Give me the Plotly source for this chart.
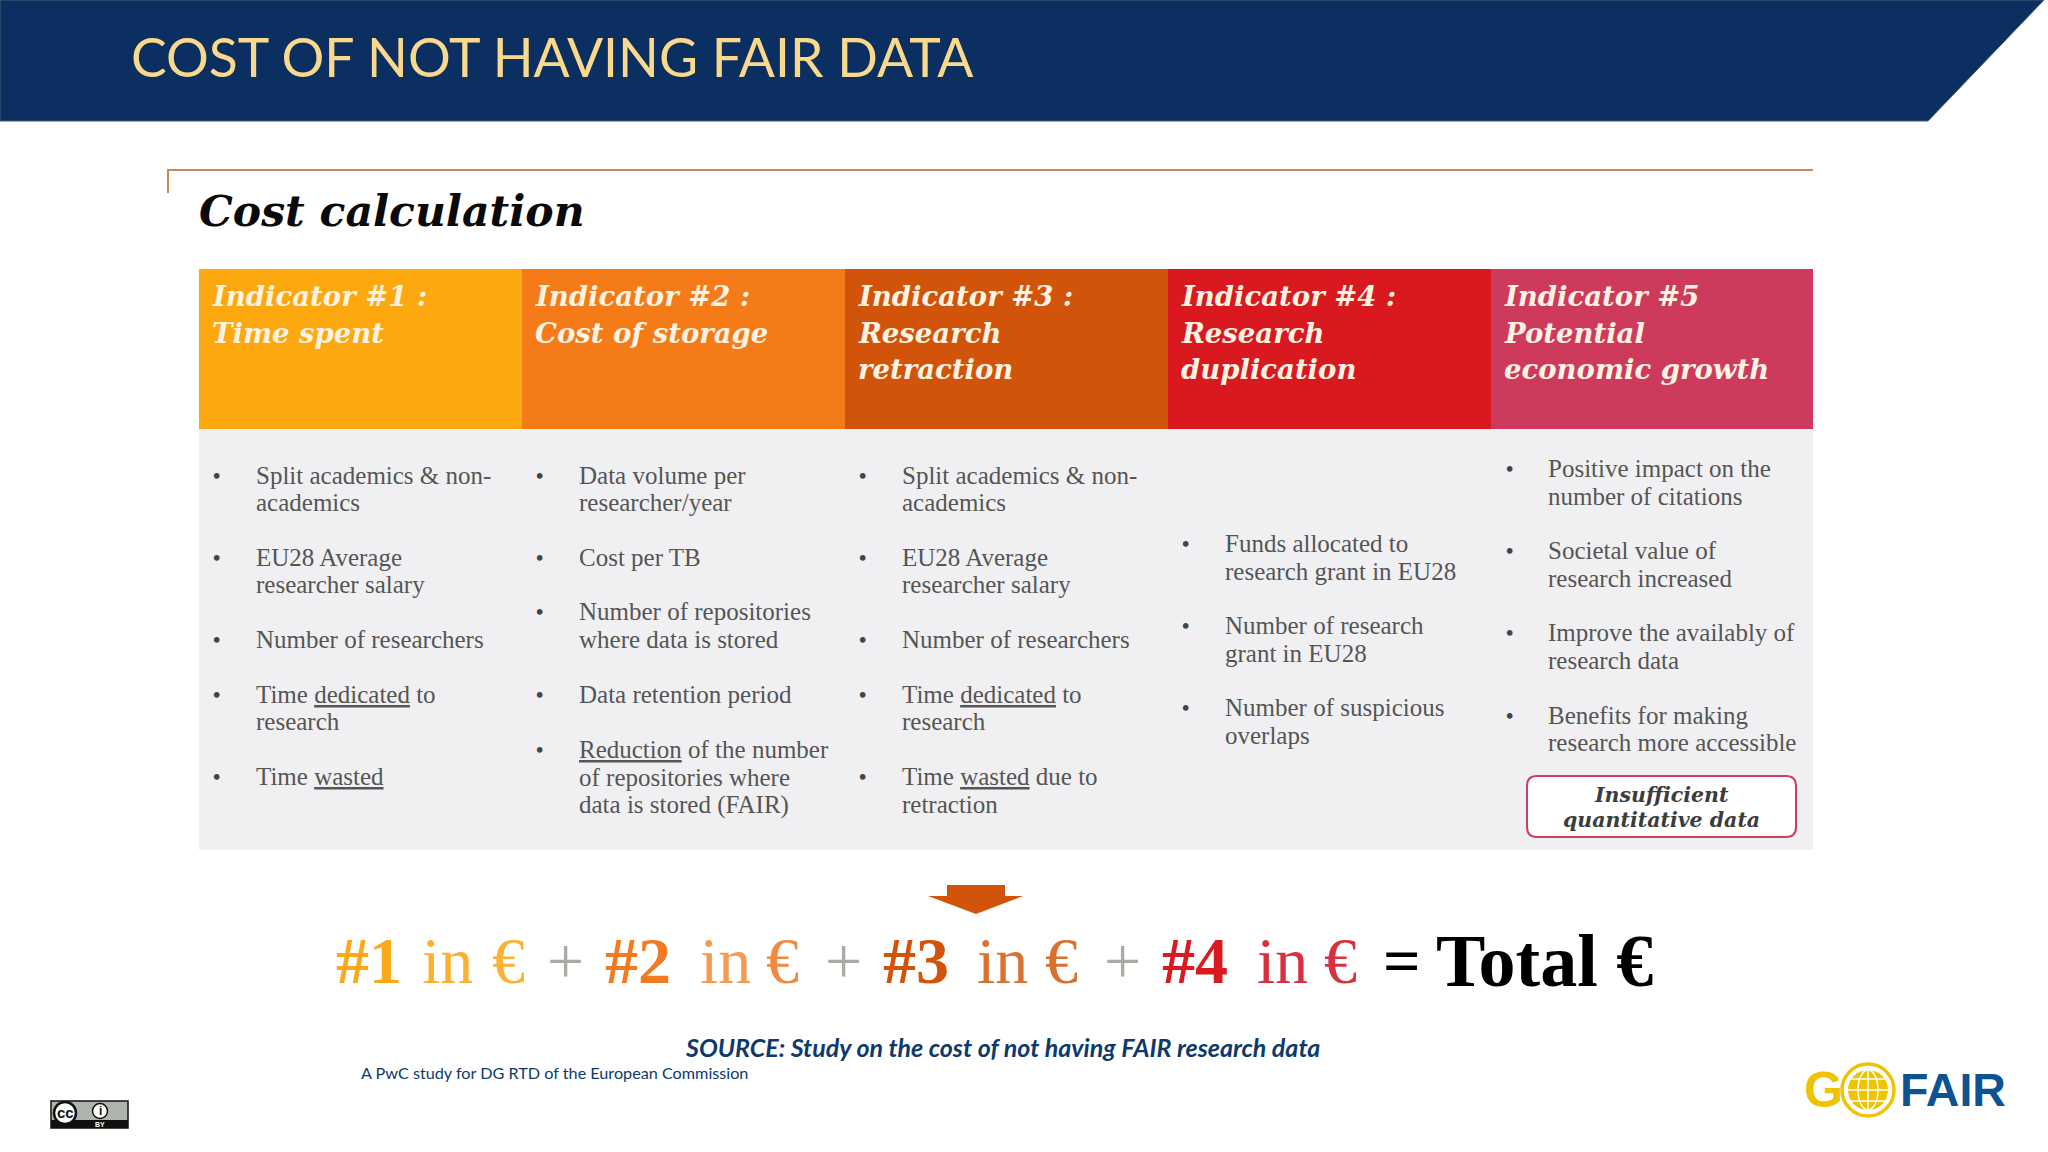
import math
import plotly.graph_objects as go

SLIDE_TITLE = "COST OF NOT HAVING FAIR DATA"
PANEL_TITLE = "Cost calculation"
HEAD_LINES = [
    ["Indicator #1 :", "Time spent"],
    ["Indicator #2 :", "Cost of storage"],
    ["Indicator #3 :", "Research", "retraction"],
    ["Indicator #4 :", "Research", "duplication"],
    ["Indicator #5", "Potential", "economic growth"],
]
HEAD_COLORS = ["#FDA80F", "#F47B17", "#D1540A", "#D9181F", "#CE3A5C"]
BODY_LINES = [
    [["Split academics &amp; non-", "academics"], ["EU28 Average", "researcher salary"], ["Number of researchers"],
     ["Time <u>dedicated</u> to", "research"], ["Time <u>wasted</u>"]],
    [["Data volume per", "researcher/year"], ["Cost per TB"], ["Number of repositories", "where data is stored"],
     ["Data retention period"], ["<u>Reduction</u> of the number", "of repositories where", "data is stored (FAIR)"]],
    [["Split academics &amp; non-", "academics"], ["EU28 Average", "researcher salary"], ["Number of researchers"],
     ["Time <u>dedicated</u> to", "research"], ["Time <u>wasted</u> due to", "retraction"]],
    [["Funds allocated to", "research grant in EU28"], ["Number of research", "grant in EU28"],
     ["Number of suspicious", "overlaps"]],
    [["Positive impact on the", "number of citations"], ["Societal value of", "research increased"],
     ["Improve the availably of", "research data"], ["Benefits for making", "research more accessible"]],
]
NOTE_LINES = ["Insufficient", "quantitative data"]
FORMULA_TEXT = ["#1", "in", "€", "+", "#2", "in", "€", "+", "#3", "in", "€", "+", "#4", "in", "€", "=", "Total €"]
FORMULA_BOLD = [1, 0, 0, 0, 1, 0, 0, 0, 1, 0, 0, 0, 1, 0, 0, 1, 1]
FORMULA_COLORS = ["#FBA919", "#FBB030", "#F9B233", "#ABABA5", "#F47A1F", "#F59A50", "#F08A40", "#ABABA5",
                  "#D2540A", "#D8722E", "#D8722E", "#ABABA5", "#D91A20", "#D93040", "#D93040", "#000000", "#000000"]
SOURCE_TEXT = "SOURCE: Study on the cost of not having FAIR research data"
SOURCE_SUB = "A PwC study for DG RTD of the European Commission"

# layout, in slide pixels
COL_X = [199, 522, 845, 1168, 1491, 1813]
BODY_TEXT_X = [255.5, 578.5, 901.5, 1224.5, 1548]
BODY_BULLET_X = [216, 539, 862.5, 1185, 1509]
BODY_Y = [
    [[475.7, 502.7], [557.7, 584.7], [639.7], [694.7, 721.7], [776.7]],
    [[475.7, 502.7], [557.7], [611.7, 639.7], [694.7], [749.7, 777.7, 804.7]],
    [[475.7, 502.7], [557.7, 584.7], [639.7], [694.7, 721.7], [776.7, 804.7]],
    [[543.7, 571.7], [625.7, 653.7], [707.7, 735.7]],
    [[468.7, 496.7], [550.7, 578.7], [632.7, 660.7], [715.7, 742.7]],
]
HEAD_Y = [296, 333, 369]
FORMULA_X = [336, 422, 492, 547, 605, 700, 766, 825, 883, 977, 1045, 1104, 1162, 1257, 1324, 1383, 1436]

SERIF = "Liberation Serif"
DISPLAY = "DejaVu Serif"
SANS = "Lato"

shapes, ann = [], []


def rect(x0, y0, x1, y1, fill, line=None, w=0):
    shapes.append(dict(type="rect", x0=x0, y0=y0, x1=x1, y1=y1, fillcolor=fill,
                       line=dict(color=line or fill, width=w)))


def path(d, fill="rgba(0,0,0,0)", line=None, w=0):
    shapes.append(dict(type="path", path=d, fillcolor=fill, line=dict(color=line or fill, width=w)))


def circle(cx, cy, rx, ry, fill="rgba(0,0,0,0)", line=None, w=0):
    shapes.append(dict(type="circle", x0=cx - rx, x1=cx + rx, y0=cy - ry, y1=cy + ry, fillcolor=fill,
                       line=dict(color=line or fill, width=w)))


def text(x, y, s, size, color, font=SERIF, anchor="left", bold=False, italic=False, va="middle"):
    if bold:
        s = f"<b>{s}</b>"
    if italic:
        s = f"<i>{s}</i>"
    ann.append(dict(x=x, y=y, text=s, showarrow=False, xanchor=anchor, yanchor=va,
                    font=dict(family=font, size=size, color=color), borderpad=0, borderwidth=0))


# banner
path("M0,0 L2044,0 L1928,121 L0,121 Z", fill="#0B2F60", line="#4A5A6E", w=1)
text(131, 55.5, SLIDE_TITLE, 53.5, "#FAD98C", font=SANS)

# panel frame
path("M168,193 L168,170 L1813,170", line="#C88A5A", w=2)
text(199, 211, PANEL_TITLE, 42.5, "#0A0A0A", font=DISPLAY, bold=True, italic=True)

# panel
rect(199, 428, 1813, 850, "#F0F0F2")
for i, color in enumerate(HEAD_COLORS):
    rect(COL_X[i], 269, COL_X[i + 1], 429, color)
    for j, line in enumerate(HEAD_LINES[i]):
        text(COL_X[i] + 13, HEAD_Y[j], line, 27.5, "#FDF3E3", font=DISPLAY, bold=True, italic=True)
    for k, item in enumerate(BODY_LINES[i]):
        text(BODY_BULLET_X[i], BODY_Y[i][k][0], "<b>•</b>", 21, "#444444", anchor="center")
        for m, line in enumerate(item):
            text(BODY_TEXT_X[i], BODY_Y[i][k][m], line, 25, "#555555")

# note box
r = 10
path(f"M{1527+r},776 L{1796-r},776 Q1796,776 1796,{776+r} L1796,{837-r} Q1796,837 {1796-r},837 "
     f"L{1527+r},837 Q1527,837 1527,{837-r} L1527,{776+r} Q1527,776 {1527+r},776 Z",
     fill="#FFFFFF", line="#C9415F", w=2)
for y, line in zip([795, 820], NOTE_LINES):
    text(1661, y, line, 20.5, "#3C3C3C", font=DISPLAY, anchor="center", bold=True, italic=True)

# arrow
path("M947,885 L1005,885 L1005,896 L1023,896 L976,914 L928,896 L947,896 Z", fill="#D1540A")

# formula
for x, s, b, c in zip(FORMULA_X, FORMULA_TEXT, FORMULA_BOLD, FORMULA_COLORS):
    text(x, 960.5, s, 74 if s.startswith("Total") else 66, c, bold=bool(b))

# source
text(1002, 1046.5, SOURCE_TEXT, 25, "#0D3A6B", font=SANS, anchor="center", bold=True, italic=True)
text(361, 1072, SOURCE_SUB, 16.2, "#0D3A6B", font=SANS)

# CC badge
rect(51, 1101, 128, 1128, "#AEB3AE", line="#111111", w=1.5)
rect(51, 1120, 128, 1128, "#111111")
circle(65, 1113, 11, 11, fill="#FFFFFF", line="#111111", w=2.5)
text(65, 1112, "cc", 15, "#111111", font="Liberation Sans", anchor="center", bold=True)
circle(100, 1111, 7.5, 7.5, fill="#FFFFFF", line="#111111", w=1.5)
text(100, 1111, "i", 12, "#111111", font="Liberation Sans", anchor="center", bold=True)
text(100, 1124.5, "BY", 7, "#FFFFFF", font="Liberation Sans", anchor="center", bold=True)

# GO FAIR logo
Y, B = "#EFC300", "#0B5394"
text(1823, 1090, "G", 50, Y, font="Liberation Sans", anchor="center", bold=True)
circle(1868, 1090, 26, 26, line=Y, w=3.5)
circle(1868, 1090, 20, 20, fill=Y)
circle(1868, 1090, 10, 20, line="#FFFFFF", w=1.5)
shapes.append(dict(type="line", x0=1868, x1=1868, y0=1070, y1=1110, line=dict(color="#FFFFFF", width=1.5)))
for dy in (-11, 0, 11):
    hw = math.sqrt(400 - dy * dy)
    shapes.append(dict(type="line", x0=1868 - hw, x1=1868 + hw, y0=1090 + dy, y1=1090 + dy,
                       line=dict(color="#FFFFFF", width=1.5)))
text(1953, 1089.5, "FAIR", 46.5, B, font="Liberation Sans", anchor="center", bold=True)

fig = go.Figure()
fig.update_layout(
    width=2048, height=1152, margin=dict(l=0, r=0, t=0, b=0),
    paper_bgcolor="#FFFFFF", plot_bgcolor="#FFFFFF", showlegend=False,
    xaxis=dict(range=[0, 2048], visible=False, fixedrange=True),
    yaxis=dict(range=[1152, 0], visible=False, fixedrange=True),
    shapes=shapes, annotations=ann,
)
fig.write_html("out.html", config={"displayModeBar": False},
               post_script="document.body.style.margin='0';document.body.style.overflow='hidden';")
